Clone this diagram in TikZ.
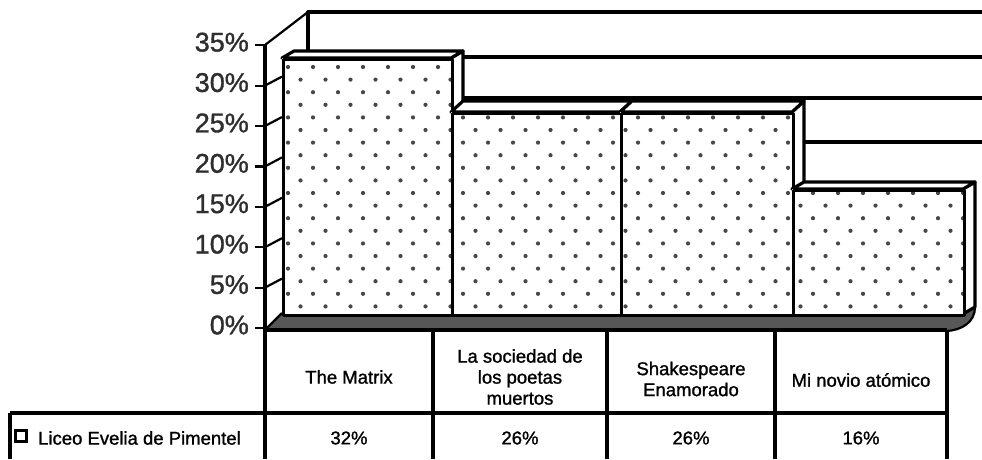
\documentclass[tikz,border=0pt]{standalone}
\usepackage{fontspec}
\setmainfont{Liberation Sans}
\newfontfamily\semib[FakeBold=1.2]{Liberation Sans}
\usetikzlibrary{calc}
\begin{document}
\begin{tikzpicture}[x=1pt,y=-1pt,
  edge/.style={line width=3.2pt, line join=round},
  wall/.style={line width=3.2pt, line cap=round},
  thin/.style={line width=2.2pt},
  axlab/.style={anchor=east, font=\semib\fontsize{27}{27}\selectfont, text=black!82, inner sep=0pt},
  cell/.style={font=\semib\fontsize{18.5}{21}\selectfont, align=center, text=black, inner sep=0pt},
  dotc/.style={fill=black!72}]
\useasboundingbox (0,0) rectangle (982,459);
\fill[white] (0,0) rectangle (982,459);

% ---- walls (back and left) ----
\draw[wall] (308,12) -- (982,12);
\draw[wall] (308,12) -- (308,52);
\draw[thin] (265,45) -- (308,12);
\draw[wall] (462,57) -- (982,57);
\draw[wall] (462,98) -- (982,98);
\draw[wall] (803,142) -- (982,142);

% ---- axis, ticks, side-wall grid stubs, labels ----
\foreach \k/\lab in {0/0\%,1/5\%,2/10\%,3/15\%,4/20\%,5/25\%,6/30\%,7/35\%}{
  \pgfmathsetmacro\yk{328-40.4*\k}
  \coordinate (t\k) at (265,\yk);
  \coordinate (s\k) at (255,\yk);
  \draw[thin] (s\k) -- (t\k);
  \node[axlab] (lab\k) at (249,\yk-3) {\lab};
}
\foreach \k in {1,...,6}{
  \coordinate (w\k) at ($(t\k)+(17,-9)$);
  \draw[thin] (t\k) -- (w\k);
}

% ---- floor ----
\fill[black!66] (265,330) -- (282,313) -- (963,313) -- (975,307)
   .. controls (975,322) and (962,330) .. (947,331) -- cycle;
\draw[thin] (265,330) -- (282,313);
\draw[thin] (975,307) .. controls (975,322) and (962,330) .. (947,331);

% ---- bars ----
\foreach \xa/\xb/\yt/\yback/\nm in {282/451/58/51/b1, 451/620/112/101/b2, 620/792/112/101/b3, 792/963/189/182/b4}{
  % right side
  \filldraw[fill=white, edge] (\xb,\yt) -- (\xb+12,\yback) -- (\xb+12,307) -- (\xb,314) -- cycle;
  % top
  \filldraw[fill=white, edge] (\xa,\yt) -- (\xa+12,\yback) -- (\xb+12,\yback) -- (\xb,\yt) -- cycle;
  % front
  \fill[white] (\xa,\yt) rectangle (\xb,314);
  \begin{scope}
    \clip (\xa,\yt) rectangle (\xb,314);
    \foreach \r in {0,...,20}{
      \pgfmathsetmacro\yy{67+12.6*\r}
      \pgfmathsetmacro\xo{288+12.5*mod(\r,2)}
      \foreach \c in {0,...,27}{
        \fill[dotc] (\xo+25*\c,\yy) circle (2.1);
      }
    }
  \end{scope}
  \node[draw, edge, inner sep=0pt, minimum width=\xb-\xa, minimum height=314-\yt, anchor=north west] (\nm) at (\xa,\yt) {};
}

% ---- axis line (continues as table border) ----
\draw[edge] (265,45) -- (265,459);

% ---- table ----
\draw[line width=3.6pt] (265,330) -- (947,330);
\draw[edge] (10,413) -- (947,413);
\foreach \xx in {433,607,775,947}{
  \draw[edge] (\xx,330) -- (\xx,459);
}
\draw[edge] (10,413) -- (10,459);

\node[cell] (c1) at (349,377) {The Matrix};
\node[cell] (c2) at (520,377) {La sociedad de\\los poetas\\muertos};
\node[cell] (c3) at (691,379) {Shakespeare\\Enamorado};
\node[cell] (c4) at (861,380) {Mi novio atómico};

\node[draw, line width=3.8pt, fill=white, minimum size=11pt, inner sep=0pt] (leg) at (21,436) {};
\node[cell, anchor=west] (ser) at (38,438) {Liceo Evelia de Pimentel};
\node[cell] (v1) at (349,438) {32\%};
\node[cell] (v2) at (520,438) {26\%};
\node[cell] (v3) at (691,438) {26\%};
\node[cell] (v4) at (861,438) {16\%};
\end{tikzpicture}
\end{document}
